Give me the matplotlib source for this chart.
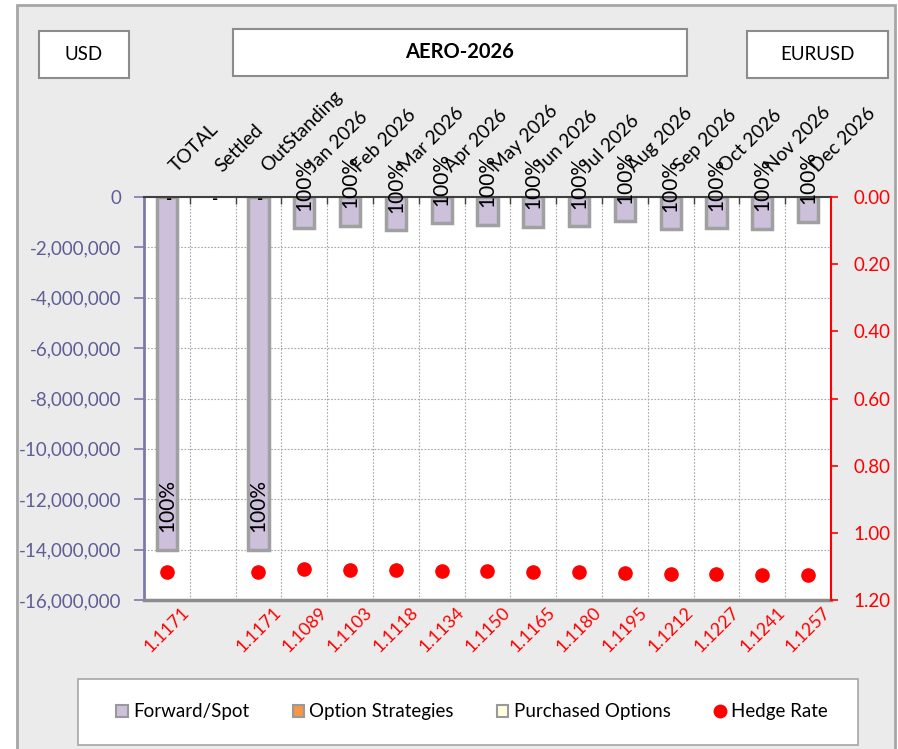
import matplotlib
matplotlib.use('Agg')
import matplotlib.pyplot as plt
import numpy as np
from matplotlib.patches import Rectangle, Patch
from matplotlib.lines import Line2D
from matplotlib.ticker import FuncFormatter

plt.rcParams['font.family'] = ['Lato', 'DejaVu Sans']

# ---------------- data ----------------
categories = ['TOTAL', 'Settled', 'OutStanding', 'Jan 2026', 'Feb 2026', 'Mar 2026',
              'Apr 2026', 'May 2026', 'Jun 2026', 'Jul 2026', 'Aug 2026', 'Sep 2026',
              'Oct 2026', 'Nov 2026', 'Dec 2026']
forward_spot = [-14000000, 0, -14000000, -1240000, -1140000, -1310000, -1040000,
                -1100000, -1180000, -1150000, -960000, -1280000, -1230000, -1260000, -980000]
option_strategies = [0] * 15
purchased_options = [0] * 15
hedge_rate = [1.1171, np.nan, 1.1171, 1.1089, 1.1103, 1.1118, 1.1134, 1.1150,
              1.1165, 1.1180, 1.1195, 1.1212, 1.1227, 1.1241, 1.1257]
rate_labels = ['1.1171', '', '1.1171', '1.1089', '1.1103', '1.1118', '1.1134', '1.1150',
               '1.1165', '1.1180', '1.1195', '1.1212', '1.1227', '1.1241', '1.1257']
pct_labels = ['100%', '', '100%'] + ['100%'] * 12
zero_labels = ['-', '-', '-'] + [''] * 12
usd_ticks = [0, -2000000, -4000000, -6000000, -8000000, -10000000, -12000000, -14000000, -16000000]
rate_ticks = [0.0, 0.2, 0.4, 0.6, 0.8, 1.0, 1.2]

# ---------------- figure ----------------
W, H = 898, 749
fig = plt.figure(figsize=(W / 100, H / 100), dpi=100, facecolor='white')

def fx(px):
    return px / W

def fy(py):
    return 1 - py / H

# outer chart frame
fig.add_artist(Rectangle((fx(17), -0.02), fx(878), fy(5) + 0.02, transform=fig.transFigure,
                         fc='#EBEBEB', ec='#A6A6A6', lw=2, zorder=0))

# header boxes
def box(x0, y0, x1, y1, text, bold=False, size=13.5):
    fig.add_artist(Rectangle((fx(x0), fy(y1)), fx(x1 - x0), (y1 - y0) / H,
                             transform=fig.transFigure, fc='white', ec='#8C8C8C', lw=1.5, zorder=1))
    fig.text(fx((x0 + x1) / 2), fy((y0 + y1) / 2), text, ha='center', va='center',
             fontsize=size, fontweight='bold' if bold else 'normal', color='black', zorder=2)

box(39, 31, 129, 78, 'USD')
box(233, 29, 687, 76, 'AERO-2026', bold=True, size=14.5)
box(747, 31, 888, 78, 'EURUSD')

# ---------------- main axes ----------------
ax = fig.add_axes([fx(144), fy(600), fx(831 - 144), (600 - 197) / H])
ax.set_facecolor('white')
x = np.arange(len(categories))

lw_fwd = [2.5 if v != 0 else 0 for v in forward_spot]
ax.bar(x, forward_spot, width=0.44, color='#CCC0DA', edgecolor='#A0A0A0', linewidth=lw_fwd, zorder=3)
bottom2 = np.array(forward_spot, dtype=float)
ax.bar(x, option_strategies, bottom=bottom2, width=0.44, color='#F79646', linewidth=0, zorder=3)
bottom3 = bottom2 + np.array(option_strategies)
ax.bar(x, purchased_options, bottom=bottom3, width=0.44, color='#FFFFE0', linewidth=0, zorder=3)

ax.set_xlim(-0.5, len(categories) - 0.5)
ax.set_ylim(-16000000, 0)
ax.set_yticks(usd_ticks)
ax.yaxis.set_major_formatter(FuncFormatter(lambda v, p: '{:,.0f}'.format(v)))
ax.tick_params(axis='y', colors='#7B7BAA', labelcolor='#5E5E96', labelsize=13.5,
               length=7, width=1.2, pad=9)

# gridlines
ax.set_xticks(np.arange(0.5, len(categories) - 1, 1), minor=True)
ax.yaxis.grid(True, linestyle=(0, (1.5, 1.5)), color='#A6A6A6', lw=0.8, zorder=1)
ax.xaxis.grid(True, which='minor', linestyle=(0, (1.5, 1.5)), color='#A6A6A6', lw=0.8, zorder=1)
ax.xaxis.grid(False, which='major')

# category labels on top
ax.xaxis.tick_top()
ax.set_xticks(x)
ax.set_xticklabels(categories, rotation=45, ha='left', va='bottom', fontsize=13.8)
ax.tick_params(axis='x', which='major', length=0, pad=16)
ax.tick_params(axis='x', which='minor', top=True, bottom=False, direction='in',
               length=5, width=1, color='#404040')

for s in ['top', 'left', 'bottom', 'right']:
    ax.spines[s].set_zorder(4)
ax.spines['top'].set_color('#404040')
ax.spines['top'].set_linewidth(1.5)
ax.spines['left'].set_color('#7B7BAA')
ax.spines['left'].set_linewidth(2)
ax.spines['bottom'].set_color('#8C8C8C')
ax.spines['bottom'].set_linewidth(2.5)
ax.spines['right'].set_visible(False)

# data labels
for i in range(len(categories)):
    if pct_labels[i]:
        ax.annotate(pct_labels[i], (x[i], forward_spot[i]), xytext=(0, 12.5),
                    textcoords='offset points', rotation=90, ha='center', va='bottom',
                    fontsize=15, color='black', zorder=6, annotation_clip=False)
    if zero_labels[i]:
        ax.annotate(zero_labels[i], (x[i], 0), xytext=(1.5, -5), textcoords='offset points',
                    ha='center', va='baseline', fontsize=12, fontweight='bold',
                    color='black', zorder=6, annotation_clip=False)

# bottom hedge-rate labels
secax = ax.secondary_xaxis('bottom')
secax.set_xticks(x)
secax.set_xticklabels(rate_labels, rotation=45, ha='center', va='top', color='red', fontsize=12.8)
secax.tick_params(length=0, pad=3)
secax.spines['bottom'].set_visible(False)

# ---------------- secondary axis: hedge rate ----------------
ax2 = ax.twinx()
ax2.plot(x, hedge_rate, linestyle='none', marker='o', color='red', markersize=9.5, zorder=6)
ax2.set_ylim(1.2, 0)
ax2.set_yticks(rate_ticks)
ax2.yaxis.set_major_formatter(FuncFormatter(lambda v, p: '{:.2f}'.format(v)))
ax2.tick_params(axis='y', colors='red', labelcolor='red', labelsize=13.5, length=5,
                width=1.2, pad=11)
for s in ['top', 'left', 'bottom']:
    ax2.spines[s].set_visible(False)
ax2.spines['right'].set_color('red')
ax2.spines['right'].set_linewidth(1.5)

# ---------------- legend ----------------
fig.add_artist(Rectangle((fx(78), fy(745)), fx(780), (745 - 679) / H, transform=fig.transFigure,
                         fc='white', ec='#A6A6A6', lw=1.2, zorder=1))
handles = [
    Patch(facecolor='#CCC0DA', edgecolor='#999999', lw=1.5, label='Forward/Spot'),
    Patch(facecolor='#F79646', edgecolor='#999999', lw=1.5, label='Option Strategies'),
    Patch(facecolor='#FFFFE0', edgecolor='#999999', lw=1.5, label='Purchased Options'),
    Line2D([], [], linestyle='none', marker='o', color='red', markersize=9, label='Hedge Rate'),
]
leg = fig.legend(handles=handles, loc='center', bbox_to_anchor=(fx(472), fy(712)), ncol=4,
                 frameon=False, fontsize=13.5, handlelength=0.6, handleheight=0.6,
                 handletextpad=0.3, columnspacing=2.3)
leg.set_zorder(3)

fig.savefig('out.png', dpi=100, facecolor='white')
